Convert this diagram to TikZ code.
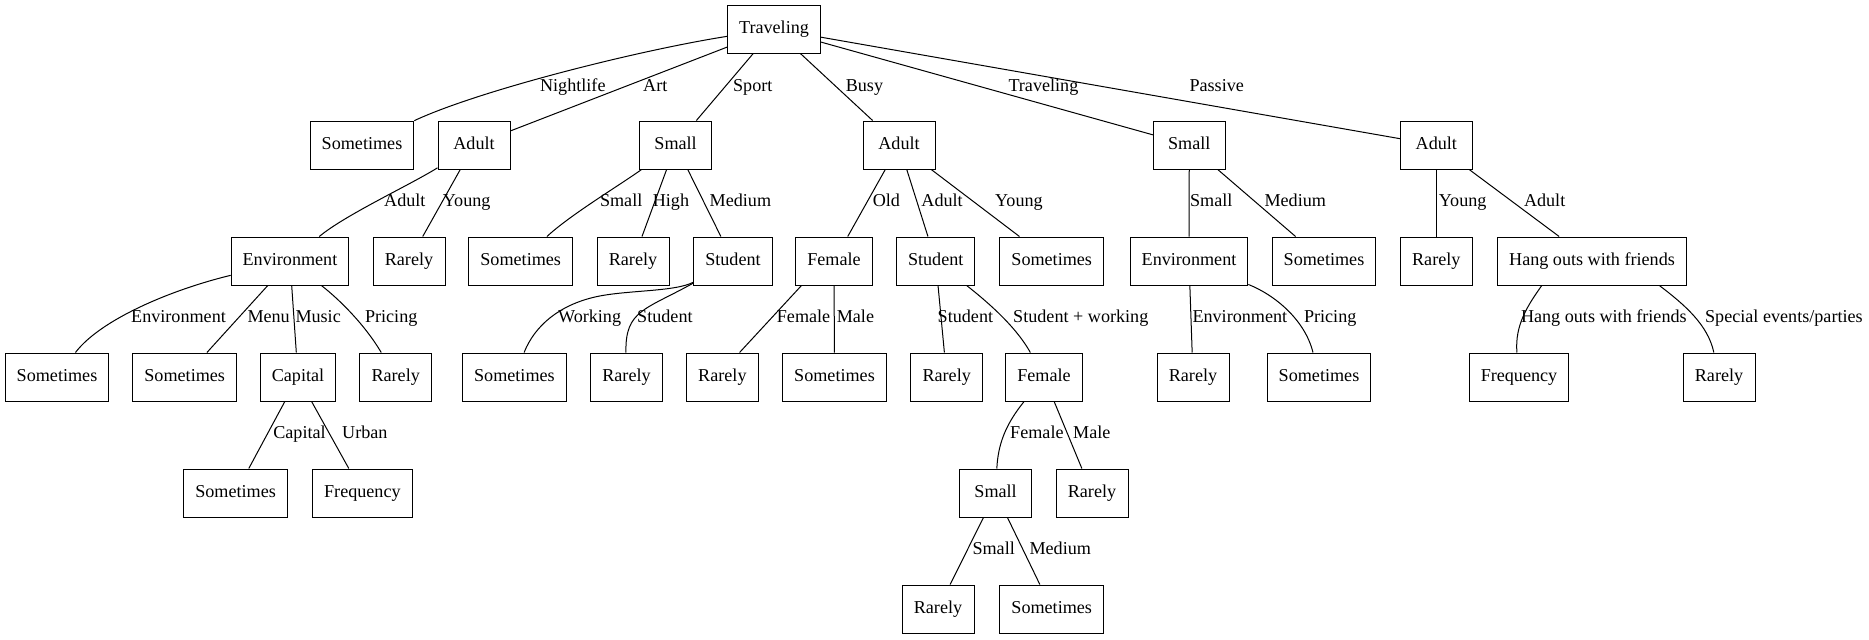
\documentclass[tikz,border=0pt]{standalone}
\usepackage{fontspec}
\setmainfont{Liberation Serif}
\begin{document}
\begin{tikzpicture}[x=0.75pt,y=-0.75pt,
  box/.style={draw,rectangle,line width=0.75pt,minimum width=54pt,minimum height=36pt,
    inner xsep=8.6pt,inner ysep=0pt,text height=10pt,text depth=3pt,
    font=\fontsize{13.6pt}{16.5pt}\selectfont},
  lbl/.style={anchor=west,inner sep=0pt,text height=10pt,text depth=3pt,
    font=\fontsize{13.6pt}{16.5pt}\selectfont},
  edge/.style={line width=0.75pt}]
\useasboundingbox (0,0) rectangle (1869,639);
% rank 0
\node[box] (trav) at (774,29) {Traveling};
% rank 1
\node[box] (a1) at (362,145) {Sometimes};
\node[box] (a2) at (474,145) {Adult};
\node[box] (a3) at (675.6,145) {Small};
\node[box] (a4) at (899,145) {Adult};
\node[box] (a5) at (1189.3,145) {Small};
\node[box] (a6) at (1436.3,145) {Adult};
% rank 2
\node[box] (b1) at (290,261) {Environment};
\node[box] (b2) at (409,261) {Rarely};
\node[box] (b3) at (520.7,261) {Sometimes};
\node[box] (b4) at (633,261) {Rarely};
\node[box] (b5) at (733,261) {Student};
\node[box] (b6) at (834,261) {Female};
\node[box] (b7) at (935.7,261) {Student};
\node[box] (b8) at (1051.7,261) {Sometimes};
\node[box] (b9) at (1189,261) {Environment};
\node[box] (b10) at (1324,261) {Sometimes};
\node[box] (b11) at (1436.3,261) {Rarely};
\node[box] (b12) at (1592,261) {Hang outs with friends};
% rank 3
\node[box] (c1) at (57,377) {Sometimes};
\node[box] (c2) at (184.7,377) {Sometimes};
\node[box] (c3) at (298,377) {Capital};
\node[box] (c4) at (395.7,377) {Rarely};
\node[box] (c5) at (514.4,377) {Sometimes};
\node[box] (c6) at (626.5,377) {Rarely};
\node[box] (c7) at (722.4,377) {Rarely};
\node[box] (c8) at (834.5,377) {Sometimes};
\node[box] (c9) at (946.7,377) {Rarely};
\node[box] (c10) at (1044,377) {Female};
\node[box] (c11) at (1193,377) {Rarely};
\node[box] (c12) at (1319,377) {Sometimes};
\node[box] (c13) at (1519,377) {Frequency};
\node[box] (c14) at (1719,377) {Rarely};
% rank 4
\node[box] (d1) at (235.6,493) {Sometimes};
\node[box] (d2) at (362.4,493) {Frequency};
\node[box] (d3) at (995.6,493) {Small};
\node[box] (d4) at (1092,493) {Rarely};
% rank 5
\node[box] (e1) at (938,609) {Rarely};
\node[box] (e2) at (1051.7,609) {Sometimes};

% edges rank 0 -> 1
\draw[edge] (trav) .. controls (640,50) and (480,90) .. (a1) node[lbl] at (539.6,86.7) {Nightlife};
\draw[edge] (trav) -- (a2) node[lbl] at (642.7,86.7) {Art};
\draw[edge] (trav) -- (a3) node[lbl] at (732.6,86.7) {Sport};
\draw[edge] (trav) -- (a4) node[lbl] at (845.3,86.7) {Busy};
\draw[edge] (trav) -- (a5) node[lbl] at (1008,86.7) {Traveling};
\draw[edge] (trav) -- (a6) node[lbl] at (1189,86.7) {Passive};
% rank 1 -> 2
\draw[edge] (a2) .. controls (410,185) and (345,215) .. (b1) node[lbl] at (383.7,202.3) {Adult};
\draw[edge] (a2) -- (b2) node[lbl] at (442.4,202.3) {Young};
\draw[edge] (a3) .. controls (620,185) and (570,215) .. (b3) node[lbl] at (599.5,202.3) {Small};
\draw[edge] (a3) -- (b4) node[lbl] at (652.3,202.3) {High};
\draw[edge] (a3) -- (b5) node[lbl] at (709.2,202.3) {Medium};
\draw[edge] (a4) -- (b6) node[lbl] at (872.3,202.3) {Old};
\draw[edge] (a4) -- (b7) node[lbl] at (920.9,202.3) {Adult};
\draw[edge] (a4) -- (b8) node[lbl] at (994.7,202.3) {Young};
\draw[edge] (a5) -- (b9) node[lbl] at (1189.6,202.3) {Small};
\draw[edge] (a5) -- (b10) node[lbl] at (1264,202.3) {Medium};
\draw[edge] (a6) -- (b11) node[lbl] at (1438.4,202.3) {Young};
\draw[edge] (a6) -- (b12) node[lbl] at (1523.5,202.3) {Adult};
% rank 2 -> 3
\draw[edge] (b1) .. controls (170,290) and (100,320) .. (c1) node[lbl] at (130.7,318.3) {Environment};
\draw[edge] (b1) -- (c2) node[lbl] at (247,318.3) {Menu};
\draw[edge] (b1) -- (c3) node[lbl] at (295,318.3) {Music};
\draw[edge] (b1) .. controls (340,300) and (365,325) .. (c4) node[lbl] at (364.5,318.3) {Pricing};
\draw[edge] (b5) .. controls (675,292) and (625,290) .. (595,297) .. controls (560,305) and (535,325) .. (c5) node[lbl] at (557.6,318.3) {Working};
\draw[edge] (b5) .. controls (645,310) and (625,310) .. (c6) node[lbl] at (636.7,318.3) {Student};
\draw[edge] (b6.217) -- (c7.55) node[lbl] at (776.4,318.3) {Female};
\draw[edge] (b6) -- (c8) node[lbl] at (836.3,318.3) {Male};
\draw[edge] (b7) -- (c9) node[lbl] at (937.2,318.3) {Student};
\draw[edge] (b7) .. controls (985,300) and (1015,325) .. (c10) node[lbl] at (1012.7,318.3) {Student + working};
\draw[edge] (b9) -- (c11) node[lbl] at (1192,318.3) {Environment};
\draw[edge] (b9) .. controls (1275,295) and (1305,320) .. (c12) node[lbl] at (1303.5,318.3) {Pricing};
\draw[edge] (b12.206) .. controls (1528,305) and (1514.6,325) .. (c13) node[lbl] at (1520.5,318.3) {Hang outs with friends};
\draw[edge] (b12.-20) .. controls (1685,305) and (1708,325) .. (c14) node[lbl] at (1704.6,318.3) {Special events/parties};
% rank 3 -> 4
\draw[edge] (c3) -- (d1) node[lbl] at (272.8,434.3) {Capital};
\draw[edge] (c3) -- (d2) node[lbl] at (341.7,434.3) {Urban};
\draw[edge] (c10) .. controls (1005,425) and (998,445) .. (d3) node[lbl] at (1009.7,434.3) {Female};
\draw[edge] (c10) -- (d4) node[lbl] at (1072.7,434.3) {Male};
% rank 4 -> 5
\draw[edge] (d3) -- (e1) node[lbl] at (972,550) {Small};
\draw[edge] (d3) -- (e2) node[lbl] at (1029,550) {Medium};
\end{tikzpicture}
\end{document}
